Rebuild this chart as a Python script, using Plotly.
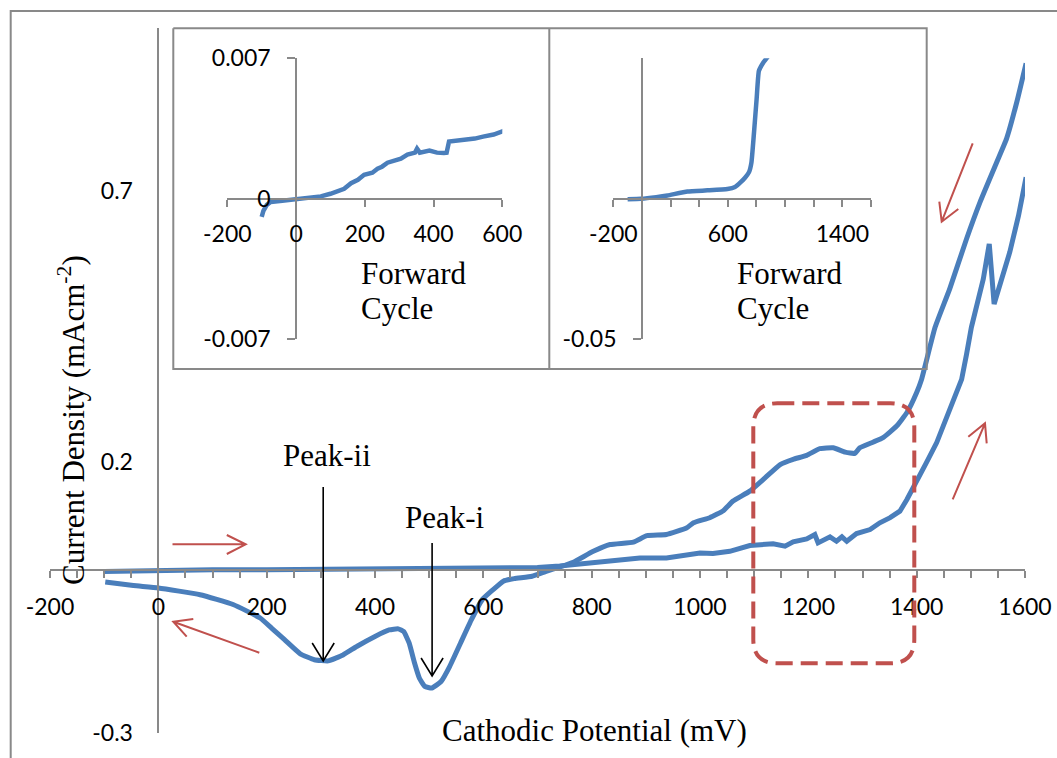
import plotly.graph_objects as go

# main chart, forward scan (-100 -> 1600 mV) and reverse scan (1600 -> -100 mV)
fwd_x = [-100, 0, 100, 200, 300, 400, 500, 600, 650, 700, 741, 766, 803, 840, 889, 938,
         975, 1000, 1024, 1055, 1092, 1135, 1157, 1172, 1197, 1212, 1218, 1240, 1252, 1262,
         1271, 1289, 1314, 1332, 1351, 1369, 1382, 1394, 1418, 1437, 1449, 1468, 1483, 1492,
         1501, 1523, 1530, 1534, 1543, 1554, 1572, 1588, 1602]
fwd_y = [-0.002, 0.0, 0.001, 0.001, 0.002, 0.002, 0.003, 0.003, 0.004, 0.005, 0.008, 0.0105,
         0.0148, 0.0198, 0.0229, 0.0229, 0.029, 0.032, 0.031, 0.035, 0.0457, 0.049, 0.0444,
         0.0525, 0.058, 0.066, 0.0506, 0.0617, 0.0536, 0.0617, 0.0536, 0.0678, 0.0752, 0.0876,
         0.097, 0.109, 0.1307, 0.155, 0.1985, 0.2355, 0.266, 0.3094, 0.352, 0.398, 0.448,
         0.537, 0.587, 0.602, 0.491, 0.525, 0.587, 0.654, 0.725]

rev_x = [1602, 1585, 1566, 1548, 1517, 1492, 1461, 1434, 1409, 1400, 1382, 1363, 1338, 1320,
         1295, 1286, 1268, 1246, 1221, 1197, 1172, 1148, 1117, 1092, 1061, 1043, 1018, 988,
         975, 938, 902, 877, 834, 803, 766, 741, 716, 690, 657, 637, 618, 598, 578, 558, 538,
         522, 505, 492, 482, 473, 463, 453, 443, 426, 400, 367, 341, 314, 288, 262, 233, 209,
         188, 138, 77, 0, -46, -98]
rev_y = [0.935, 0.864, 0.796, 0.753, 0.679, 0.611, 0.519, 0.448, 0.352, 0.328, 0.291, 0.266,
         0.2447, 0.2366, 0.226, 0.2157, 0.218, 0.226, 0.2244, 0.212, 0.2046, 0.195, 0.1677,
         0.146, 0.1276, 0.110, 0.097, 0.0876, 0.078, 0.066, 0.064, 0.052, 0.0475, 0.035,
         0.0148, 0.006, -0.002, -0.011, -0.0153, -0.020, -0.0357, -0.054, -0.091, -0.134,
         -0.177, -0.205, -0.217, -0.214, -0.199, -0.171, -0.134, -0.113, -0.108, -0.110,
         -0.122, -0.140, -0.156, -0.167, -0.165, -0.154, -0.128, -0.1065, -0.088, -0.063,
         -0.045, -0.0326, -0.028, -0.0215]

# inset 1: forward cycle, -100 .. 600 mV
in1_x = [-100, -95, -85, -74, -40, -6, 40, 72, 100, 120, 140, 160, 180, 198, 222, 237, 250,
         266, 285, 305, 324, 346, 352, 360, 388, 410, 430, 438, 445, 470, 492, 520, 544, 575, 606]
in1_y = [-0.0009, -0.0006, -0.0003, -0.00016, -0.0001, -0.00005, 0.00005, 0.00012, 0.00025,
         0.00036, 0.0005, 0.00078, 0.00095, 0.0012, 0.0013, 0.0015, 0.0016, 0.0018, 0.0019,
         0.002, 0.0022, 0.0023, 0.0025, 0.0023, 0.0024, 0.0023, 0.00228, 0.0023, 0.00285,
         0.0029, 0.0029, 0.003, 0.0031, 0.0032, 0.0034]

# inset 2: forward cycle, full range
in2_x = [-100, -7, 100, 179, 318, 458, 597, 650, 690, 720, 748, 765, 783, 801, 817, 848, 880]
in2_y = [-0.0002, 0.0, 0.0006, 0.0012, 0.0026, 0.003, 0.0035, 0.0042, 0.0059, 0.0075, 0.0095,
         0.013, 0.0237, 0.0355, 0.0455, 0.0485, 0.0506]

main_xticks = [-200, 0, 200, 400, 600, 800, 1000, 1200, 1400, 1600]
main_yticks = [-0.3, 0.2, 0.7]
in1_xticks = [-200, 0, 200, 400, 600]
in1_yticks = [-0.007, 0, 0.007]
in1_ytext = ["-0.007", "0", "0.007"]
in2_xticks = [-200, 600, 1400]
in2_yticks = [-0.05]

BLUE = "#4a7ebb"
RED = "#c0504d"
GRAY = "#898989"
SERIF = "Liberation Serif"

W, H = 1057, 758
L, R, T, B = 50, 1025, 28, 733   # plot area in window pixels


def px(x):
    return (x - L) / (R - L)


def py(y):
    return (B - y) / (B - T)


def path(*pts):
    s = ""
    for i, p in enumerate(pts):
        if p is None:
            continue
        cmd = "M" if i == 0 or pts[i - 1] is None else "L"
        s += f"{cmd}{px(p[0]):.5f},{py(p[1]):.5f} "
    return s


def rrect(x0, y0, x1, y1, r):
    pts = [("M", x0 + r, y0), ("L", x1 - r, y0), ("Q", x1, y0), ("", x1, y0 + r),
           ("L", x1, y1 - r), ("Q", x1, y1), ("", x1 - r, y1), ("L", x0 + r, y1),
           ("Q", x0, y1), ("", x0, y1 - r), ("L", x0, y0 + r), ("Q", x0, y0), ("", x0 + r, y0)]
    return " ".join(f"{c}{px(a):.5f},{py(b):.5f}" for c, a, b in pts) + " Z"


tickfont = dict(family="Lato", size=23, color="black")

fig = go.Figure()
fig.add_trace(go.Scatter(x=fwd_x, y=fwd_y, mode="lines", line=dict(color=BLUE, width=5)))
fig.add_trace(go.Scatter(x=rev_x, y=rev_y, mode="lines",
                         line=dict(color=BLUE, width=5, shape="spline", smoothing=0.4)))
fig.add_trace(go.Scatter(x=in1_x, y=in1_y, mode="lines", line=dict(color=BLUE, width=4.5),
                         xaxis="x2", yaxis="y2"))
fig.add_trace(go.Scatter(x=in2_x, y=in2_y, mode="lines",
                         line=dict(color=BLUE, width=4.5, shape="spline", smoothing=0.4),
                         xaxis="x3", yaxis="y3"))

xr, yr = [-200, 1600], [-0.3, 1.0]
x2r, y2r = [-200, 600], [-0.007, 0.007]
x3r, y3r = [-200, 1600], [-0.05, 0.05]
x2d = [px(227.3), px(502.3)]
x3d = [px(613.3), px(871)]
yid = [py(339.3), py(58.3)]


def zero_pos(rng, dom):
    return dom[0] + (0 - rng[0]) / (rng[1] - rng[0]) * (dom[1] - dom[0])


axis_common = dict(showline=True, linecolor=GRAY, linewidth=1.6, showgrid=False,
                   zeroline=False, tickfont=tickfont, anchor="free", tickcolor=GRAY,
                   tickwidth=1.6, automargin=False)

fig.update_layout(
    width=W, height=H, autosize=False,
    margin=dict(l=L, r=W - R, t=T, b=H - B, autoexpand=False),
    paper_bgcolor="white", plot_bgcolor="rgba(0,0,0,0)",
    showlegend=False,
    font=dict(family="Lato", color="black"),
    xaxis=dict(axis_common, domain=[0, 1], range=xr, position=zero_pos(yr, [0, 1]),
               tickmode="array", tickvals=main_xticks, ticktext=[str(v) for v in main_xticks],
               ticks="outside", ticklen=7, ticklabelstandoff=9,
               minor=dict(tickmode="linear", tick0=-200, dtick=50, ticks="outside",
                          ticklen=7, tickcolor=GRAY, tickwidth=1.6)),
    yaxis=dict(axis_common, domain=[0, 1], range=yr, position=zero_pos(xr, [0, 1]),
               tickmode="array", tickvals=main_yticks, ticktext=[str(v) for v in main_yticks],
               ticks="", ticklabelstandoff=20),
    xaxis2=dict(axis_common, domain=x2d, range=x2r, position=zero_pos(y2r, yid),
                tickmode="array", tickvals=in1_xticks, ticktext=[str(v) for v in in1_xticks],
                ticks="outside", ticklen=7, ticklabelstandoff=8),
    yaxis2=dict(axis_common, domain=yid, range=y2r, position=zero_pos(x2r, x2d),
                tickmode="array", tickvals=in1_yticks, ticktext=in1_ytext,
                ticks="outside", ticklen=8, ticklabelstandoff=12),
    xaxis3=dict(axis_common, domain=x3d, range=x3r, position=zero_pos(y3r, yid),
                tickmode="array", tickvals=in2_xticks, ticktext=[str(v) for v in in2_xticks],
                ticks="outside", ticklen=7, ticklabelstandoff=8,
                minor=dict(tickmode="linear", tick0=-200, dtick=200, ticks="outside",
                           ticklen=7, tickcolor=GRAY, tickwidth=1.6)),
    yaxis3=dict(axis_common, domain=yid, range=y3r, position=zero_pos(x3r, x3d),
                tickmode="array", tickvals=in2_yticks, ticktext=[str(v) for v in in2_yticks],
                ticks="outside", ticklen=8, ticklabelstandoff=12),
)

shapes = []
# outer chart frame (continues past right and bottom edges)
shapes.append(dict(type="path", path=path((10.7, 800), (10.7, 11), (1100, 11)),
                   line=dict(color=GRAY, width=2)))
# inset frame
shapes.append(dict(type="path", path=path((173.3, 28.3), (926.7, 28.3), (926.7, 369),
                                          (173.3, 369), (173.3, 28.3), None,
                                          (549.3, 28.3), (549.3, 369)),
                   line=dict(color=GRAY, width=2)))
# dashed highlight box
shapes.append(dict(type="path", path=rrect(753.3, 403.3, 914.3, 663.3, 24),
                   line=dict(color=RED, width=4, dash="17px,8px")))
# peak arrows
for x, top, tip in [(323.2, 487, 661), (432.1, 543, 676)]:
    shapes.append(dict(type="path",
                       path=path((x, top), (x, tip), None, (x - 11, tip - 18), (x, tip),
                                 (x + 11, tip - 18)),
                       line=dict(color="black", width=1.6)))
# red scan-direction arrows: tail, tip, head ends
for tail, tip, h1, h2 in [((172.5, 544.3), (245.7, 544.3), (226.8, 535), (226.8, 554)),
                          ((259.3, 652.7), (173.3, 621.7), (186.7, 636.7), (193.3, 619)),
                          ((972.7, 143.3), (941.7, 221.7), (939.3, 201.7), (958.3, 209)),
                          ((952.7, 499.3), (985, 423.3), (968.3, 436.7), (986.7, 443.3))]:
    shapes.append(dict(type="path", path=path(tail, tip, None, h1, tip, h2),
                       line=dict(color=RED, width=2)))
for s in shapes:
    s.update(xref="paper", yref="paper", layer="above")
fig.update_layout(shapes=shapes)

texts = [
    ("Cathodic Potential (mV)", 594.5, 730, "center", 0),
    ("Current Density (mAcm<sup>-2</sup>)", 71, 420, "center", -90),
    ("Peak-ii", 327, 455, "center", 0),
    ("Peak-i", 445, 517, "center", 0),
    ("Forward", 359, 273, "left", 0),
    ("Cycle", 359, 308, "left", 0),
    ("Forward", 735, 273, "left", 0),
    ("Cycle", 735, 308, "left", 0),
]
for t, x, y, xa, ang in texts:
    fig.add_annotation(text=t, x=px(x), y=py(y), xref="paper", yref="paper",
                       xanchor=xa, yanchor="middle", showarrow=False, textangle=ang,
                       font=dict(family=SERIF, size=31, color="black"))

# drop the page's default 8px body margin so the figure fills the window exactly
fig.write_html("out.html", config={"displayModeBar": False, "responsive": False},
               post_script="document.body.style.margin='0';"
                           "document.body.style.overflow='hidden';")
